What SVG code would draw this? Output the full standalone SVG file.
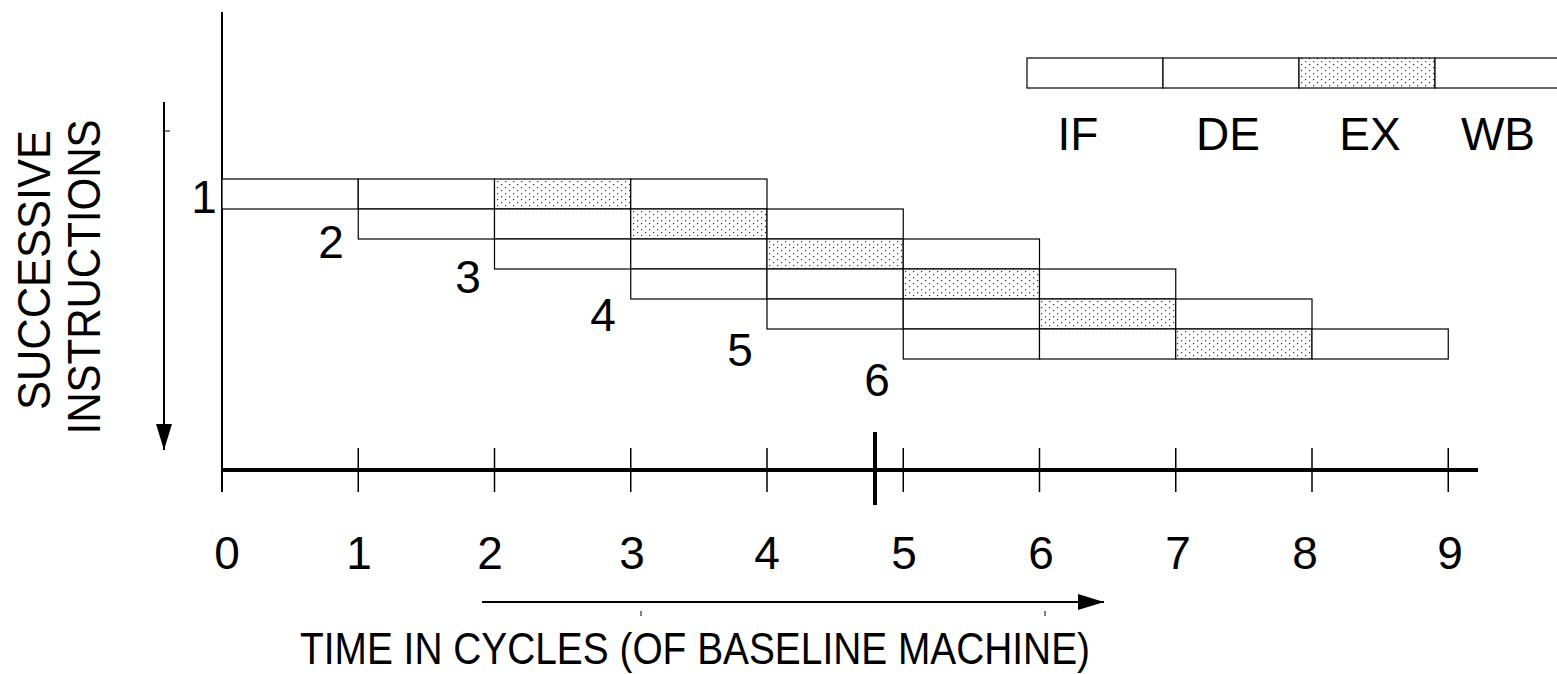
<svg xmlns="http://www.w3.org/2000/svg" width="1557" height="674" viewBox="0 0 1557 674">
<style>
.box{fill:#fff;stroke:#000;stroke-width:1.2}
.ex{fill:url(#dots);stroke:#000;stroke-width:1.2}
.ln{stroke:#000;fill:none}
text{font-family:"Liberation Sans",Arial,sans-serif;fill:#000}
.lbl{font-size:46px}
</style>
<defs>
<pattern id="dots" width="8" height="6" patternUnits="userSpaceOnUse">
<rect width="8" height="6" fill="#fff"/>
<rect x="1" y="1" width="1.2" height="1.2" fill="#333"/>
<rect x="5" y="4" width="1.2" height="1.2" fill="#333"/>
</pattern>
<marker id="ah" viewBox="0 0 26 16" refX="26" refY="8" markerWidth="26" markerHeight="16" markerUnits="userSpaceOnUse" orient="auto">
<path d="M0,0 L26,8 L0,16 Z" fill="#000"/>
</marker>
</defs>

<g id="connectors">
<line class="ln" x1="222" y1="12" x2="222" y2="492" stroke-width="2"/>
<line class="ln" x1="222" y1="470" x2="1478" y2="470" stroke-width="4"/>
<g stroke-width="1.5" class="ln">
<line x1="222" y1="448" x2="222" y2="492"/>
<line x1="358.25" y1="448" x2="358.25" y2="492"/>
<line x1="494.5" y1="448" x2="494.5" y2="492"/>
<line x1="630.75" y1="448" x2="630.75" y2="492"/>
<line x1="767" y1="448" x2="767" y2="492"/>
<line x1="903.25" y1="448" x2="903.25" y2="492"/>
<line x1="1039.5" y1="448" x2="1039.5" y2="492"/>
<line x1="1175.75" y1="448" x2="1175.75" y2="492"/>
<line x1="1312" y1="448" x2="1312" y2="492"/>
<line x1="1448.25" y1="448" x2="1448.25" y2="492"/>
</g>
<line class="ln" x1="875" y1="432" x2="875" y2="505" stroke-width="4"/>
<line class="ln" x1="164" y1="102" x2="164" y2="450" stroke-width="2" marker-end="url(#ah)"/>
<line class="ln" x1="164" y1="131" x2="170" y2="131" stroke-width="1"/>
<line class="ln" x1="482" y1="602" x2="1104" y2="602" stroke-width="2" marker-end="url(#ah)"/>
<line class="ln" x1="641" y1="611" x2="641" y2="616" stroke-width="1"/>
<line class="ln" x1="1045" y1="611" x2="1045" y2="616" stroke-width="1"/>
</g>

<g id="legend">
<rect class="box" x="1027" y="58" width="136" height="30"/>
<rect class="box" x="1163" y="58" width="136" height="30"/>
<rect class="ex" x="1299" y="58" width="136" height="30"/>
<rect class="box" x="1435" y="58" width="136" height="30"/>
<text class="lbl" x="1078" y="150" text-anchor="middle">IF</text>
<text class="lbl" x="1228" y="150" text-anchor="middle">DE</text>
<text class="lbl" x="1370" y="150" text-anchor="middle">EX</text>
<text class="lbl" x="1498" y="150" text-anchor="middle">WB</text>
</g>

<g id="instr1">
<rect class="box" x="222" y="179" width="136.25" height="30"/>
<rect class="box" x="358.25" y="179" width="136.25" height="30"/>
<rect class="ex" x="494.5" y="179" width="136.25" height="30"/>
<rect class="box" x="630.75" y="179" width="136.25" height="30"/>
<text class="lbl" x="204" y="213" text-anchor="middle">1</text>
</g>
<g id="instr2">
<rect class="box" x="358.25" y="209" width="136.25" height="30"/>
<rect class="box" x="494.5" y="209" width="136.25" height="30"/>
<rect class="ex" x="630.75" y="209" width="136.25" height="30"/>
<rect class="box" x="767" y="209" width="136.25" height="30"/>
<text class="lbl" x="331" y="258" text-anchor="middle">2</text>
</g>
<g id="instr3">
<rect class="box" x="494.5" y="239" width="136.25" height="30"/>
<rect class="box" x="630.75" y="239" width="136.25" height="30"/>
<rect class="ex" x="767" y="239" width="136.25" height="30"/>
<rect class="box" x="903.25" y="239" width="136.25" height="30"/>
<text class="lbl" x="468" y="293" text-anchor="middle">3</text>
</g>
<g id="instr4">
<rect class="box" x="630.75" y="269" width="136.25" height="30"/>
<rect class="box" x="767" y="269" width="136.25" height="30"/>
<rect class="ex" x="903.25" y="269" width="136.25" height="30"/>
<rect class="box" x="1039.5" y="269" width="136.25" height="30"/>
<text class="lbl" x="603" y="331" text-anchor="middle">4</text>
</g>
<g id="instr5">
<rect class="box" x="767" y="299" width="136.25" height="30"/>
<rect class="box" x="903.25" y="299" width="136.25" height="30"/>
<rect class="ex" x="1039.5" y="299" width="136.25" height="30"/>
<rect class="box" x="1175.75" y="299" width="136.25" height="30"/>
<text class="lbl" x="740" y="366" text-anchor="middle">5</text>
</g>
<g id="instr6">
<rect class="box" x="903.25" y="329" width="136.25" height="30"/>
<rect class="box" x="1039.5" y="329" width="136.25" height="30"/>
<rect class="ex" x="1175.75" y="329" width="136.25" height="30"/>
<rect class="box" x="1312" y="329" width="136.25" height="30"/>
<text class="lbl" x="877" y="396" text-anchor="middle">6</text>
</g>

<g id="axis-labels" class="lbl" text-anchor="middle">
<text x="227" y="569">0</text>
<text x="359" y="569">1</text>
<text x="490" y="569">2</text>
<text x="632" y="569">3</text>
<text x="767" y="569">4</text>
<text x="904" y="569">5</text>
<text x="1041" y="569">6</text>
<text x="1178" y="569">7</text>
<text x="1305" y="569">8</text>
<text x="1450" y="569">9</text>
</g>

<g id="titles">
<text x="300" y="664" font-size="45" textLength="790" lengthAdjust="spacingAndGlyphs">TIME IN CYCLES (OF BASELINE MACHINE)</text>
<text class="lbl" transform="translate(50,270) rotate(-90)" text-anchor="middle" textLength="280" lengthAdjust="spacingAndGlyphs">SUCCESSIVE</text>
<text class="lbl" transform="translate(100,277) rotate(-90)" text-anchor="middle" textLength="315" lengthAdjust="spacingAndGlyphs">INSTRUCTIONS</text>
</g>
</svg>
